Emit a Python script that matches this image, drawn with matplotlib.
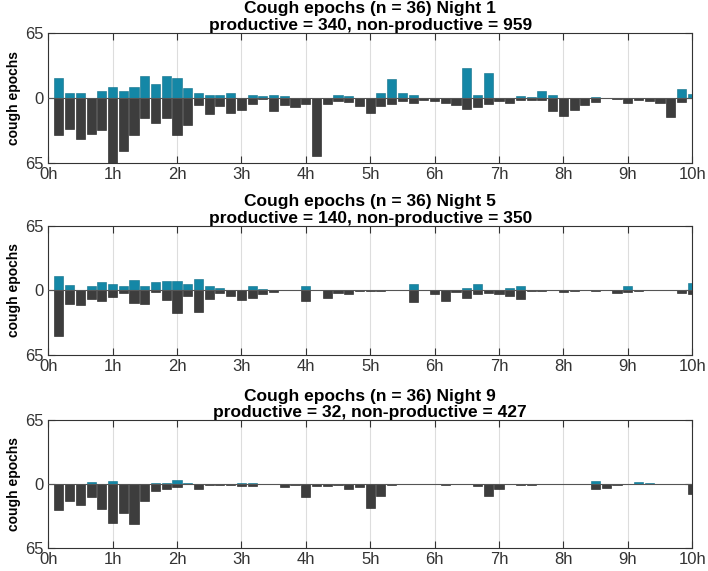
import matplotlib.pyplot as plt
import numpy as np

plt.rcParams['font.family'] = ['Liberation Sans', 'DejaVu Sans']

# 10-minute bins, bar k sits at k*10 min (k = 1..60)
bins = np.arange(1, 61)

nights = ["Night 1", "Night 5", "Night 9"]
productive_totals = [340, 140, 32]
nonproductive_totals = [959, 350, 427]

# productive cough epochs (drawn upwards)
prod_n1 = [20.5, 4.6, 4.6, 0, 6.6, 11.5, 6.6, 11.5, 22, 14.5, 22, 20.5, 9.6, 4.6, 3, 3, 4.6, 0, 3, 2.3,
           3, 1.7, 0, 0, 0, 0, 3, 2.3, 0, 0, 4.6, 19.5, 4.6, 3, 0, 0, 0, 0, 30.4, 3,
           25.4, 0, 0, 1.7, 0.7, 7.3, 3, 0, 0, 0, 0.7, 0, 0.5, 0, 0, 0, 0, 0, 9, 4]
prod_n5 = [15, 6, 0, 4.3, 8.3, 7, 4.3, 10.3, 5, 8.3, 9.3, 9.3, 7, 12, 4.3, 2, 0, 0, 4.3, 1,
           0, 0, 0, 5, 0, 0, 0, 0, 0.7, 0.7, 0, 0, 0, 7, 0, 0.5, 0.7, 0.5, 2, 7,
           0.5, 0, 2, 5, 0.3, 0.3, 0, 0, 0.7, 0, 0.3, 0, 0, 4.3, 0.3, 0, 0, 0, 0.7, 7.7]
prod_n9 = [0.5, 0.5, 0.5, 2, 0.5, 3.4, 0.5, 0.5, 0.5, 1.3, 1.3, 4.4, 0.7, 0, 0, 0, 0, 0.7, 0.7, 0,
           0, 0, 0, 0, 0, 0, 0, 0, 0, 0, 0, 0, 0, 0, 0, 0, 0, 0, 0, 0,
           0, 0, 0, 0, 0, 0, 0, 0, 0, 0, 2.7, 0.5, 0, 0, 2.3, 1.3, 0, 0, 0, 0.5]

# non-productive cough epochs (drawn downwards)
nonprod_n1 = [37, 30.7, 40.6, 35.6, 32.3, 65, 53, 37, 20, 24.7, 20, 37, 27.4, 7, 15.8, 8.3, 14.9, 11.9, 6, 1,
              12.5, 7, 9.2, 6, 57.8, 6, 3.3, 4.3, 8, 15, 8.2, 6, 3.3, 5, 2, 2.6, 5, 7, 11, 8.6,
              6, 2.6, 5, 1.7, 1.7, 1.7, 13.2, 18, 12, 7, 4.3, 0, 0.5, 5, 2, 2.6, 5, 19, 4.3, 0]
nonprod_n5 = [45.7, 14, 15, 8.3, 10.7, 6.7, 2.3, 12.3, 14, 1.7, 9.7, 22.3, 5.7, 21.7, 8.3, 2.3, 5.7, 9.7, 7.7, 4,
              1.3, 0, 0, 11, 0, 8, 3, 4, 1, 1, 1, 0, 0, 11.3, 0, 4, 10.3, 1.7, 8, 4,
              3, 4, 5.7, 9, 0.5, 0.5, 0, 2, 0.7, 0, 0.5, 0, 2.7, 1.7, 0.5, 0, 0, 0, 2.3, 4]
nonprod_n9 = [26, 17, 21, 12.8, 25, 39.7, 29.6, 40.7, 17, 6.7, 4.7, 3.4, 0, 5.4, 0.5, 0.5, 0.5, 2, 2, 0,
              0, 3, 0.5, 12.8, 2, 2, 0.5, 4.7, 3, 24.6, 11.8, 1, 0, 0, 0, 0, 0.7, 0, 0, 2.4,
              11.8, 4.7, 0, 0.7, 0.7, 0, 0, 0, 0, 0, 4.7, 4, 0.7, 0, 0, 0, 0, 0, 0, 9.7]

prod = [prod_n1, prod_n5, prod_n9]
nonprod = [nonprod_n1, nonprod_n5, nonprod_n9]

hour_ticks = np.arange(0, 11)
hour_labels = [f"{h}h" for h in hour_ticks]

teal = "#1487a6"
dark = "#3d3d3d"

fig = plt.figure(figsize=(7.08, 5.71), dpi=100)
boxes = [[0.068, 0.7145, 0.9096, 0.2277],
         [0.068, 0.3783, 0.9096, 0.2260],
         [0.068, 0.0403, 0.9096, 0.2240]]

x = bins / 6.0
w = 0.85 / 6.0
for i in range(3):
    ax = fig.add_axes(boxes[i])
    ax.bar(x, prod[i], width=w, color=teal, edgecolor="#0e6f88", linewidth=0.4, zorder=3)
    ax.bar(x, -np.array(nonprod[i]), width=w, color=dark, edgecolor="#1a1a1a", linewidth=0.4, zorder=3)
    ax.axhline(0, color="#555555", linewidth=0.8, zorder=4)
    ax.set_xlim(0, 10)
    ax.set_ylim(-65, 65)
    ax.set_xticks(hour_ticks)
    ax.set_xticklabels(hour_labels, fontsize=12)
    ax.set_yticks([-65, 0, 65])
    ax.set_yticklabels(["65", "0", "65"], fontsize=12)
    ax.grid(axis="x", color="#dddddd", linewidth=0.8, zorder=0)
    ax.tick_params(direction="in", top=True, right=True, length=5, width=0.8, colors="#333333", pad=3)
    for s in ax.spines.values():
        s.set_color("#333333")
        s.set_linewidth(0.8)
    ax.set_ylabel("cough epochs", fontsize=10, fontweight="bold", labelpad=3)
    ax.set_title(f"Cough epochs (n = 36) {nights[i]}\n"
                 f"productive = {productive_totals[i]}, non-productive = {nonproductive_totals[i]}",
                 fontsize=12.5, fontweight="bold", pad=2, linespacing=1.15,
                 family=['Liberation Sans Narrow', 'Liberation Sans'])

fig.savefig("out.png", dpi=100)
